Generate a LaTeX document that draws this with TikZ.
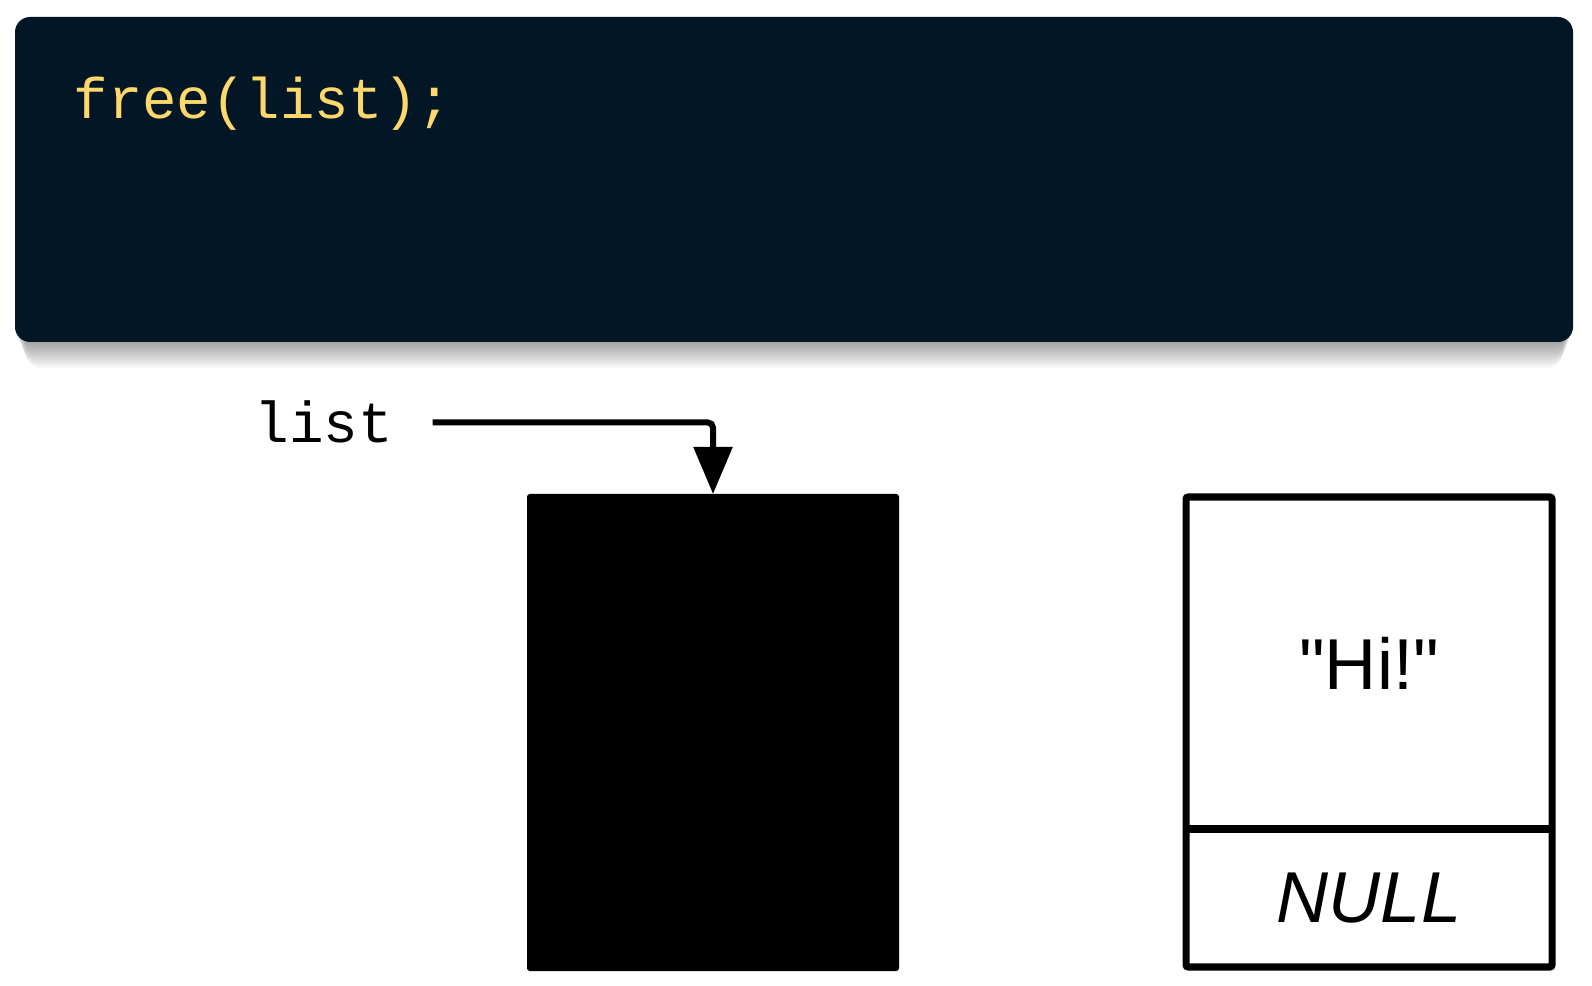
\documentclass[tikz,border=0pt]{standalone}
\usepackage{fontspec}
\setmainfont{Liberation Sans}
\setmonofont{Liberation Mono}
\usetikzlibrary{arrows.meta}

\definecolor{codebg}{RGB}{2,22,37}
\definecolor{codeyellow}{RGB}{255,216,107}

\begin{document}
\begin{tikzpicture}[x=0.01cm, y=-0.01cm,
    ptr/.style={line width=1.7pt, rounded corners=1.5pt,
                -{Triangle[length=13.4pt, width=10.8pt]}},
    cell/.style={line width=2pt, rounded corners=0.6pt}]

  \useasboundingbox (0,0) rectangle (1592,986);

  %code box, with a soft shadow below it
  \foreach \s in {2,4,...,26}{
    \fill[black, opacity=0.03, rounded corners=4.5pt]
      (15+\s*0.4, 17+\s) rectangle (1573-\s*0.4, 342+\s);
  }
  \fill[codebg, rounded corners=4.3pt] (15,17) rectangle (1573,342);
  \node[anchor=base west, inner sep=0, codeyellow,
        font=\ttfamily\fontsize{16.3pt}{19pt}\selectfont] (code) at (73,119) {free(list);};

  %pointer
  \node[anchor=base west, inner sep=0,
        font=\ttfamily\fontsize{16.4pt}{19pt}\selectfont] (list) at (254,443) {list};

  %freed node
  \fill[black, rounded corners=0.8pt] (527,494) rectangle (899,971);
  \coordinate (freed) at (713,494);

  \draw[ptr] ([xshift=11pt]list.east) -| (freed);

  %next node
  \draw[cell] (1186,497) rectangle (1552,967);
  \draw[cell] (1186,829) -- (1552,829);
  \node[font=\fontsize{20.5pt}{24pt}\selectfont] (hi) at (1369,663) {\textquotedbl Hi!\textquotedbl};
  \node[font=\itshape\fontsize{20.5pt}{24pt}\selectfont] (null) at (1369,898) {NULL};

\end{tikzpicture}
\end{document}
